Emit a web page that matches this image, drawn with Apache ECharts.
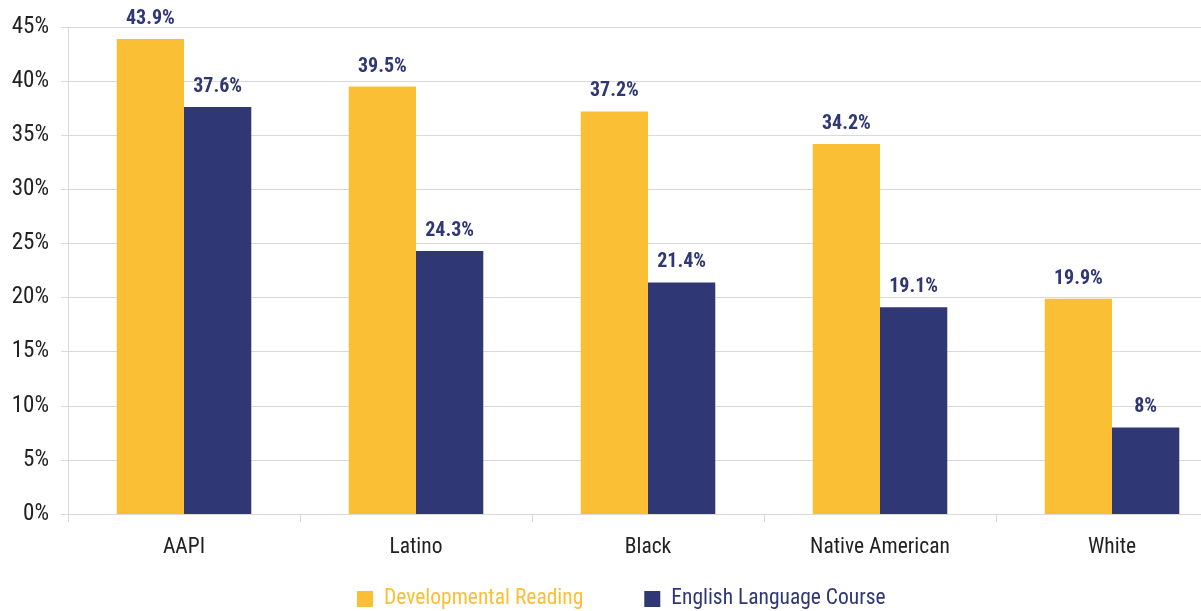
<!DOCTYPE html>
<html>
<head>
<meta charset="utf-8">
<script src="https://cdn.jsdelivr.net/npm/echarts@6/dist/echarts.min.js"></script>
<style>
  html, body { margin: 0; padding: 0; background: #fff; overflow: hidden; }
  /* the plot runs past the right edge in the reference, so the canvas is wider than the window */
  #chart { width: 1228px; height: 611px; }
</style>
</head>
<body>
<div id="chart"></div>
<script>
// data
const categories = ["AAPI", "Latino", "Black", "Native American", "White"];
const devReading = [43.9, 39.5, 37.2, 34.2, 19.9];
const englishCourse = [37.6, 24.3, 21.4, 19.1, 8];
const yTicks = [0, 5, 10, 15, 20, 25, 30, 35, 40, 45];

const FONT = '"Roboto Condensed", "Roboto", sans-serif';
const YELLOW = "#FBBF36";
const NAVY = "#2F3774";

let chart = echarts.init(document.getElementById("chart"));

let labelOpt = {
  show: true,
  position: "top",
  distance: 10,
  color: NAVY,
  fontFamily: FONT,
  fontWeight: "bold",
  fontSize: 20,
  formatter: p => p.value + "%"
};

let option = {
  animation: false,
  grid: { left: 68, right: 0, top: 27, bottom: 97 },
  legend: {
    top: 588,
    left: 357,
    padding: 0,
    itemWidth: 16,
    itemHeight: 16,
    itemGap: 61,
    icon: "rect",
    textStyle: { color: "inherit", fontFamily: FONT, fontSize: 21.5, padding: [0, 0, 0, 6] },
    data: ["Developmental Reading", "English Language Course"]
  },
  xAxis: {
    type: "category",
    data: categories,
    axisLine: { lineStyle: { color: "#D9D9D9", width: 1 } },
    axisTick: { show: true, length: 8, lineStyle: { color: "#D9D9D9" } },
    axisLabel: { color: "#222", fontFamily: FONT, fontSize: 21.5, margin: 23 }
  },
  yAxis: {
    type: "value",
    min: yTicks[0],
    max: yTicks[yTicks.length - 1],
    interval: 5,
    axisLine: { show: true, lineStyle: { color: "#D9D9D9" } },
    axisTick: { show: true, length: 7, lineStyle: { color: "#D9D9D9" } },
    splitLine: { lineStyle: { color: "#D9D9D9" } },
    axisLabel: { color: "#222", fontFamily: FONT, fontSize: 23, margin: 19, formatter: "{value}%" }
  },
  series: [
    {
      name: "Developmental Reading",
      type: "bar",
      data: devReading,
      barGap: 0,
      barCategoryGap: "42%",
      itemStyle: { color: YELLOW },
      label: labelOpt
    },
    {
      name: "English Language Course",
      type: "bar",
      data: englishCourse,
      barGap: 0,
      barCategoryGap: "42%",
      itemStyle: { color: NAVY },
      label: labelOpt
    }
  ]
};
chart.setOption(option);
</script>
</body>
</html>
